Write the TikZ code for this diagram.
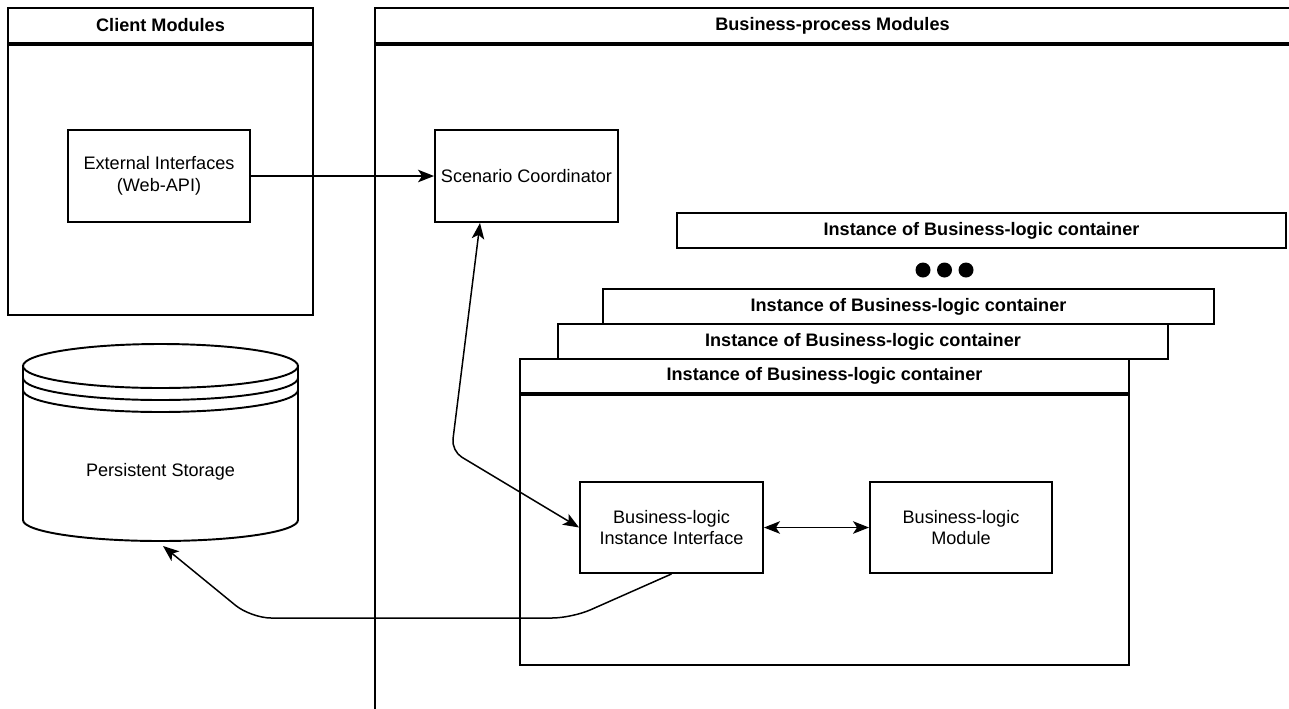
\documentclass[tikz,border=0pt]{standalone}
\usepackage{fontspec}
\setmainfont{Liberation Sans}
\usetikzlibrary{arrows.meta}

\begin{document}
\begin{tikzpicture}[x=0.02cm,y=-0.02cm,
	>={Stealth[length=0.32cm,width=0.25cm,inset=0.08cm]},
	box/.style={draw,fill=white,line width=1.1pt,align=center,inner sep=2pt,font=\fontsize{10.3}{12.4}\selectfont},
	hdr/.style={box,font=\fontsize{10.3}{12.4}\selectfont\bfseries},
	conn/.style={line width=0.85pt,->}]
	\useasboundingbox (0,0) rectangle (1289,708);
	\clip (0,0) rectangle (1289,708);

	% containers
	\node[hdr,minimum width=6.1cm,minimum height=0.7cm] (clienthd) at (160.5,25.5) {Client Modules};
	\node[box,minimum width=6.1cm,minimum height=5.4cm,anchor=north] (client) at (clienthd.south) {};
	\node[hdr,minimum width=18.3cm,minimum height=0.7cm] (bphd) at (832.5,25.5) {Business-process Modules};
	\node[box,minimum width=18.3cm,minimum height=14.4cm,anchor=north] (bp) at (bphd.south) {};

	\node[box,minimum width=3.64cm,minimum height=1.84cm] (ext) at (159,176) {External Interfaces\\(Web-API)};
	\node[box,minimum width=3.66cm,minimum height=1.84cm] (scen) at (526.5,176) {Scenario Coordinator};

	% business-logic containers
	\node[hdr,minimum width=12.18cm,minimum height=0.7cm] (insttop) at (981.5,230.5) {Instance of Business-logic container};
	\fill (923,270) circle(7.5);
	\fill (944.5,270) circle(7.5);
	\fill (966,270) circle(7.5);
	\node[hdr,minimum width=12.22cm,minimum height=0.7cm] (instb) at (908.5,306.5) {Instance of Business-logic container};
	\node[hdr,minimum width=12.2cm,minimum height=0.7cm] (instc) at (863,341.5) {Instance of Business-logic container};
	\node[hdr,minimum width=12.18cm,minimum height=0.68cm] (instahd) at (824.5,376) {Instance of Business-logic container};
	\node[box,minimum width=12.18cm,minimum height=5.4cm,anchor=north] (insta) at (instahd.south) {};

	\node[box,minimum width=3.66cm,minimum height=1.82cm] (iface) at (671.5,527.5) {Business-logic\\Instance Interface};
	\node[box,minimum width=3.64cm,minimum height=1.82cm] (module) at (961,527.5) {Business-logic\\Module};

	% storage
	\draw[line width=1.1pt,fill=white] (23,366) -- (23,520) arc[start angle=180,end angle=0,x radius=137.5,y radius=21] -- (298,366);
	\draw[line width=1.1pt] (160.5,366) ellipse[x radius=137.5,y radius=22];
	\draw[line width=1.1pt] (23,378) arc[start angle=180,end angle=0,x radius=137.5,y radius=22];
	\draw[line width=1.1pt] (23,390) arc[start angle=180,end angle=0,x radius=137.5,y radius=22];
	\node[font=\fontsize{10.3}{12.4}\selectfont] (store) at (160.5,472) {Persistent Storage};
	\coordinate (storebot) at (163,546);

	% connectors
	\draw[conn] (ext.east) -- (scen.west);
	\draw[conn,<->,rounded corners=0.24cm] ([xshift=-0.93cm]scen.south) -- (451.5,451) -- (iface.west);
	\draw[conn,<->] (iface.east) -- (module.west);
	\draw[conn,rounded corners=0.4cm] (iface.south) -- (572,618) -- (251,618) -- (storebot);
\end{tikzpicture}
\end{document}
